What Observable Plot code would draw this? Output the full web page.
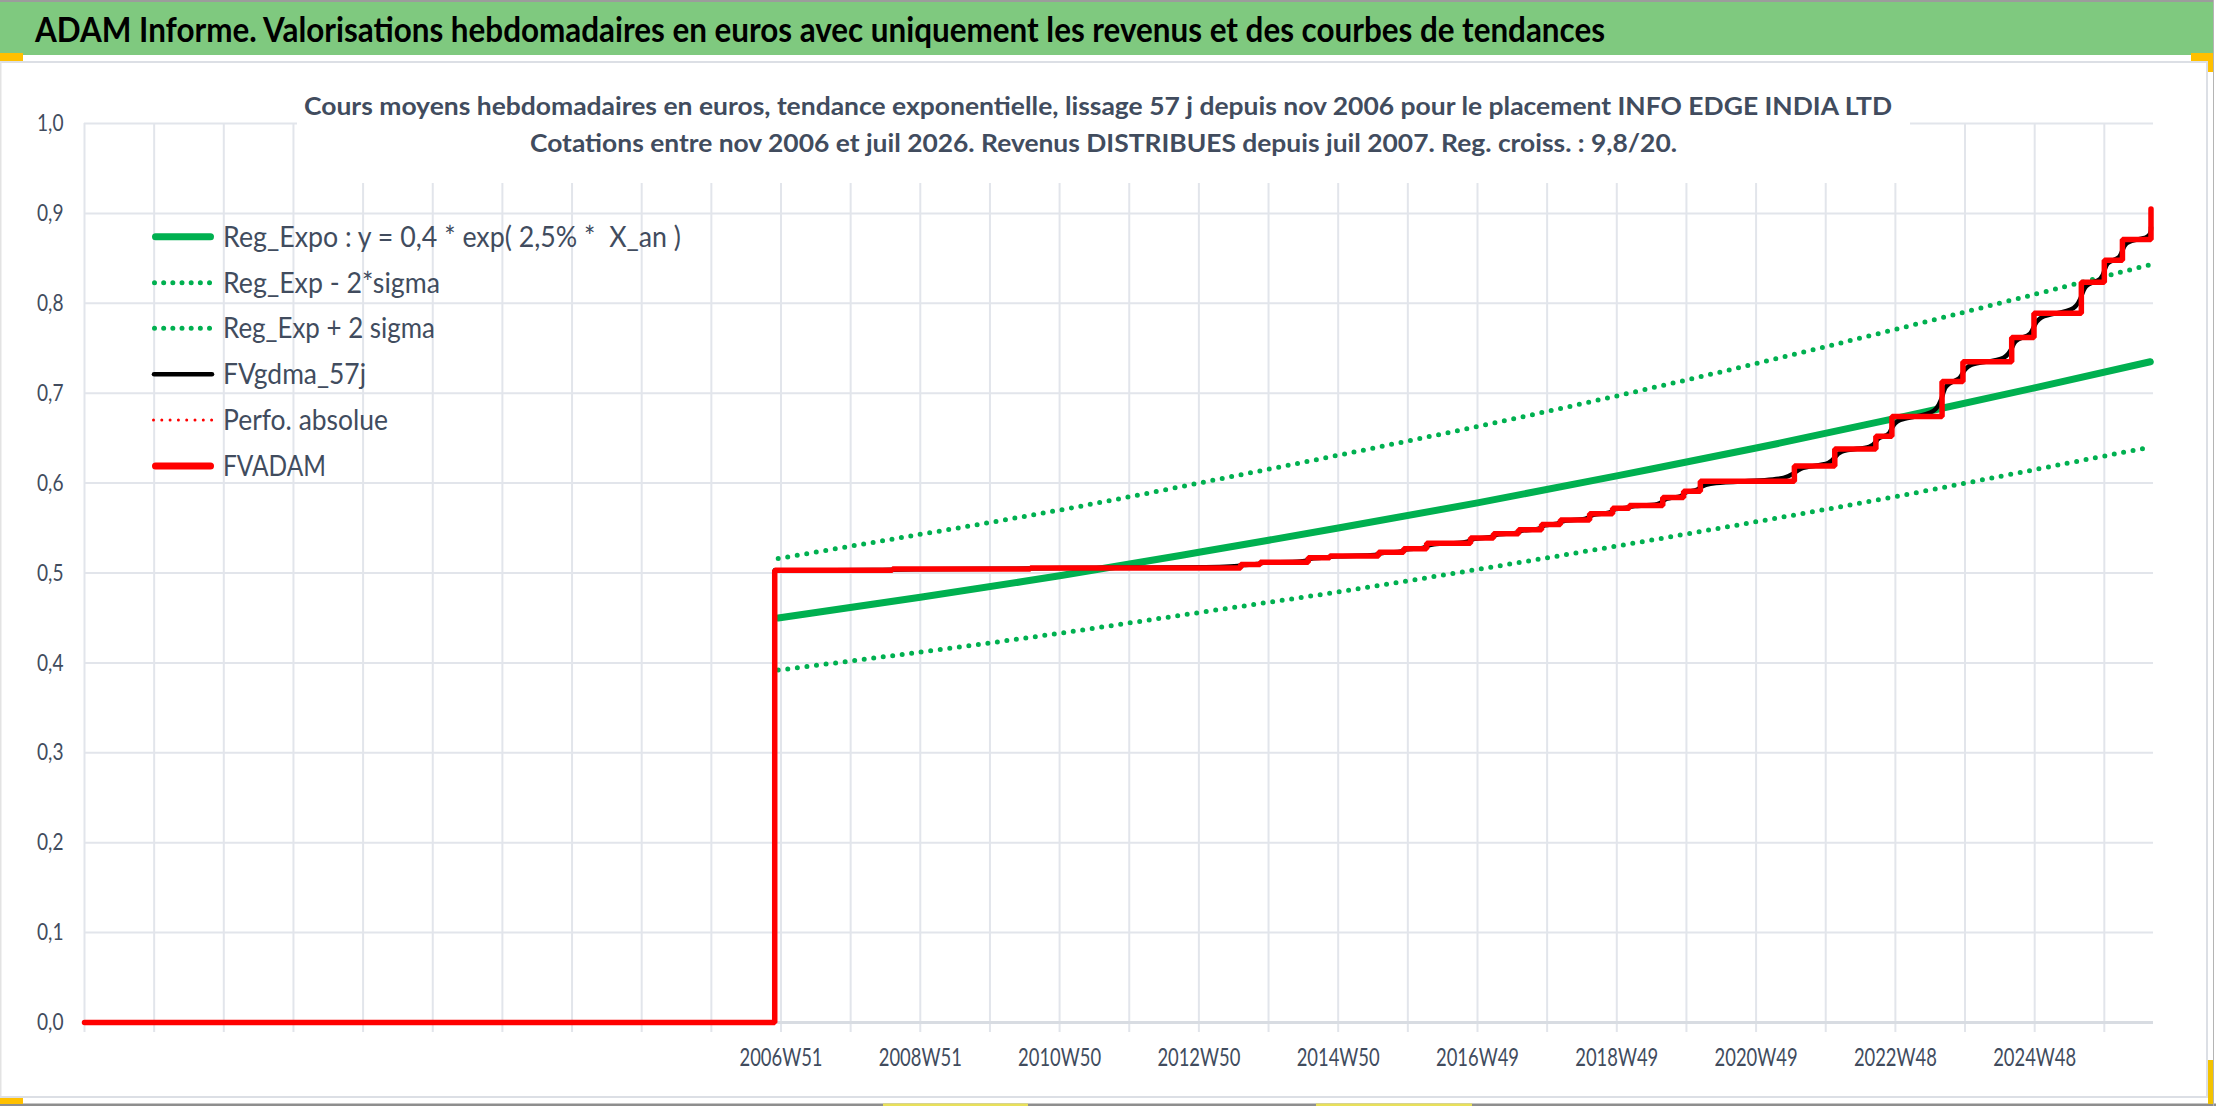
<!DOCTYPE html>
<html>
<head>
<meta charset="utf-8">
<script src="https://cdn.jsdelivr.net/npm/d3@7"></script>
<script src="https://cdn.jsdelivr.net/npm/@observablehq/plot@0.6"></script>
<style>
html, body { margin: 0; padding: 0; background: #fff; }
#wrap { position: relative; width: 2216px; height: 1106px; overflow: hidden; background: #fff; }
#wrap > svg { position: absolute; left: 0; top: 0; }
</style>
</head>
<body>
<div id="wrap"></div>
<script>
// ---------- texts ----------
const titleText = "ADAM Informe. Valorisations hebdomadaires en euros avec uniquement les revenus et des courbes de tendances";
const subtitleLines = [
  "Cours moyens hebdomadaires en euros, tendance exponentielle, lissage 57 j depuis nov 2006 pour le placement INFO EDGE INDIA LTD",
  "Cotations entre nov 2006 et juil 2026. Revenus DISTRIBUES depuis juil 2007. Reg. croiss. : 9,8/20."
];
const legendLabels = [
  "Reg_Expo : y = 0,4 * exp( 2,5% *  X_an )",
  "Reg_Exp - 2*sigma",
  "Reg_Exp + 2 sigma",
  "FVgdma_57j",
  "Perfo. absolue",
  "FVADAM"
];

// ---------- axes ----------
const yTicks = [0, 0.1, 0.2, 0.3, 0.4, 0.5, 0.6, 0.7, 0.8, 0.9, 1.0];
const xTickYears = [2006.97, 2008.97, 2010.97, 2012.97, 2014.97, 2016.97, 2018.97, 2020.97, 2022.97, 2024.97];
const xTickLabels = ["2006W51", "2008W51", "2010W50", "2012W50", "2014W50", "2016W49", "2018W49", "2020W49", "2022W48", "2024W48"];
const xDomain = [1996.97, 2026.676];

// ---------- series ----------
const regYears = [2006.93, 2008.97, 2010.97, 2012.97, 2014.97, 2016.97, 2018.97, 2020.97, 2022.97, 2024.97, 2026.63];
const regValues = [0.450, 0.473, 0.497, 0.523, 0.550, 0.578, 0.608, 0.639, 0.672, 0.706, 0.735];
const regHighValues = [0.516, 0.543, 0.570, 0.600, 0.631, 0.663, 0.697, 0.733, 0.771, 0.810, 0.843];
const regLowValues = [0.392, 0.412, 0.433, 0.456, 0.479, 0.504, 0.530, 0.557, 0.585, 0.615, 0.640];

const fvYears = [1996.97, 2006.88, 2008.57, 2010.55, 2013.57, 2013.85, 2014.54, 2014.85, 2015.55, 2015.91,
  2016.24, 2016.87, 2017.20, 2017.56, 2017.89, 2018.16, 2018.58, 2018.91, 2019.15, 2019.63,
  2019.93, 2020.17, 2021.52, 2022.10, 2022.69, 2022.92, 2023.64, 2023.94, 2024.64, 2024.96,
  2025.64, 2025.97, 2026.23, 2026.64];
const fvValues = [0, 0.503, 0.5045, 0.5057, 0.5095, 0.512, 0.517, 0.519, 0.523, 0.527,
  0.533, 0.539, 0.5436, 0.548, 0.554, 0.559, 0.566, 0.572, 0.575, 0.584,
  0.591, 0.602, 0.619, 0.638, 0.652, 0.674, 0.713, 0.735, 0.762, 0.789,
  0.8235, 0.848, 0.871, 0.905];
const gdmaLastValue = 0.885;

// ---------- build tables ----------
const reg = regYears.map((x, i) => ({x, y: regValues[i]}));
const regHigh = regYears.map((x, i) => ({x, y: regHighValues[i]}));
const regLow = regYears.map((x, i) => ({x, y: regLowValues[i]}));
const fv = fvYears.map((x, i) => ({x, y: fvValues[i]}));
// smoothed (moving average) line: corners of the staircase after the first quotation
const gdma = [];
for (let i = 1; i < fvYears.length; i++) {
  if (i > 1) gdma.push({x: fvYears[i], y: fvValues[i - 1]});
  gdma.push({x: fvYears[i], y: i === fvYears.length - 1 ? gdmaLastValue : fvValues[i]});
}
const gridYears = d3.range(0, 30).map(k => xDomain[0] + k);
const labelMap = new Map(xTickYears.map((d, i) => [d, xTickLabels[i]]));

const W = 2216, H = 1106;
const gridColor = "#E2E5EB";
const textColor = "#414C5E";
const font = "Lato, 'Open Sans', 'DejaVu Sans', sans-serif";
const green = "#00B050", red = "#FF0000";

const plot = Plot.plot({
  width: W, height: H,
  marginLeft: 84, marginRight: 63, marginTop: 123, marginBottom: 84,
  x: {domain: xDomain, label: null},
  y: {domain: [0, 1], label: null},
  style: {background: "transparent", fontFamily: font, color: textColor, overflow: "visible"},
  marks: [
    Plot.gridY(yTicks, {stroke: gridColor, strokeOpacity: 1, strokeWidth: 2}),
    Plot.gridX(gridYears, {stroke: gridColor, strokeOpacity: 1, strokeWidth: 2}),
    Plot.axisX({ticks: gridYears, tickSize: 10, tickFormat: () => "", stroke: gridColor, strokeOpacity: 1, strokeWidth: 2}),
    Plot.axisX({ticks: xTickYears, tickSize: 0, tickPadding: 26, tickFormat: d => labelMap.get(d), fill: textColor, fontSize: 25}),
    Plot.axisY({ticks: yTicks, tickSize: 0, tickPadding: 21, tickFormat: d => d.toFixed(1).replace(".", ","), fill: textColor, fontSize: 24}),
    Plot.ruleY([0], {stroke: "#D8DCE2", strokeWidth: 3}),
    Plot.line(reg, {x: "x", y: "y", stroke: green, strokeWidth: 7, curve: "natural"}),
    Plot.line(regLow, {x: "x", y: "y", stroke: green, strokeWidth: 5, curve: "natural", strokeDasharray: "0 9.6", strokeLinecap: "round"}),
    Plot.line(regHigh, {x: "x", y: "y", stroke: green, strokeWidth: 5, curve: "natural", strokeDasharray: "0 9.6", strokeLinecap: "round"}),
    Plot.line(gdma, {x: "x", y: "y", stroke: "#000", strokeWidth: 4.5, curve: "basis"}),
    Plot.line(fv, {x: "x", y: "y", stroke: red, strokeWidth: 5.5, curve: "step-after", strokeLinejoin: "miter"})
  ]
});

const wrap = document.getElementById("wrap");
wrap.appendChild(plot);

// condense tick labels to the reference widths
function condense(groupLabel, refText, targetWidth) {
  const texts = Array.from(plot.querySelectorAll(`g[aria-label="${groupLabel}"] text`)).filter(t => t.textContent.length);
  const ref = texts.find(t => t.textContent === refText);
  if (!ref) return;
  const k = targetWidth / ref.getComputedTextLength();
  texts.forEach(t => {
    const len = t.getComputedTextLength();
    t.setAttribute("textLength", (len * k).toFixed(2));
    t.setAttribute("lengthAdjust", "spacingAndGlyphs");
  });
}
condense("x-axis tick label", "2006W51", 83);
condense("y-axis tick label", "0,0", 26.5);

// ---------- overlay: frame, title, subtitle, legend ----------
const ov = d3.select(wrap).append("svg")
  .attr("width", W).attr("height", H)
  .style("pointer-events", "none")
  .attr("font-family", font);

// frame
ov.append("rect").attr("x", 0).attr("y", 0).attr("width", 2214).attr("height", 2).attr("fill", "#9C9C9C");
ov.append("rect").attr("x", 0).attr("y", 2).attr("width", 2213).attr("height", 53).attr("fill", "#7FC97F");
ov.append("rect").attr("x", 0).attr("y", 61).attr("width", 2208).attr("height", 2).attr("fill", "#DCDFE5");
ov.append("rect").attr("x", 0).attr("y", 62).attr("width", 1.5).attr("height", 1036).attr("fill", "#E3E3E3");
ov.append("rect").attr("x", 2206).attr("y", 62).attr("width", 2).attr("height", 1036).attr("fill", "#DCDFE5");
ov.append("rect").attr("x", 0).attr("y", 1096).attr("width", 2208).attr("height", 2).attr("fill", "#DCDFE5");
ov.append("rect").attr("x", 0).attr("y", 1103.5).attr("width", W).attr("height", 2.5).attr("fill", "#8E8E8E");
ov.append("rect").attr("x", 2213).attr("y", 0).attr("width", 1).attr("height", H).attr("fill", "#B4B4B4");
// selection handles
ov.append("rect").attr("x", 0).attr("y", 53).attr("width", 23).attr("height", 8).attr("fill", "#FFC000");
ov.append("rect").attr("x", 2191).attr("y", 53).attr("width", 22).attr("height", 8).attr("fill", "#FFC000");
ov.append("rect").attr("x", 2208).attr("y", 53).attr("width", 5).attr("height", 19).attr("fill", "#FFC000");
ov.append("rect").attr("x", 0).attr("y", 1098).attr("width", 23).attr("height", 6).attr("fill", "#FFC000");
ov.append("rect").attr("x", 2208).attr("y", 1060).attr("width", 5).attr("height", 44).attr("fill", "#F2C200");
ov.append("rect").attr("x", 883).attr("y", 1103.5).attr("width", 145).attr("height", 2.5).attr("fill", "#E8E05A");
ov.append("rect").attr("x", 1316).attr("y", 1103.5).attr("width", 156).attr("height", 2.5).attr("fill", "#E8E05A");

// title
ov.append("text").attr("x", 35).attr("y", 41.5)
  .attr("font-size", 34).attr("font-weight", "bold").attr("fill", "#000")
  .attr("textLength", 1570).attr("lengthAdjust", "spacingAndGlyphs")
  .text(titleText);

// subtitle box + text
ov.append("rect").attr("x", 297).attr("y", 64).attr("width", 1613).attr("height", 119).attr("fill", "#fff");
const subPos = [{x: 304, y: 115, w: 1588}, {x: 530, y: 151.5, w: 1147}];
subtitleLines.forEach((s, i) => {
  ov.append("text").attr("x", subPos[i].x).attr("y", subPos[i].y)
    .attr("font-size", 25.5).attr("font-weight", "bold").attr("fill", textColor)
    .attr("textLength", subPos[i].w).attr("lengthAdjust", "spacingAndGlyphs")
    .text(s);
});

// legend
const legendY = [236.7, 282.7, 328.3, 374.3, 420, 466];
const legendW = [458, 217, 212, 143, 165, 103];
const swatches = [
  {stroke: green, width: 7, dash: null, cap: "round", x1: 155.5, x2: 210.5},
  {stroke: green, width: 5, dash: "0 9.17", cap: "round", x1: 154.5, x2: 209.6},
  {stroke: green, width: 5, dash: "0 9.17", cap: "round", x1: 154.5, x2: 209.6},
  {stroke: "#000", width: 4.5, dash: null, cap: "round", x1: 154, x2: 212},
  {stroke: red, width: 3, dash: "0 8.3", cap: "round", x1: 153.5, x2: 211.7},
  {stroke: red, width: 7, dash: null, cap: "round", x1: 155.5, x2: 210.5}
];
legendLabels.forEach((lab, i) => {
  const s = swatches[i];
  const ln = ov.append("line").attr("x1", s.x1).attr("x2", s.x2).attr("y1", legendY[i]).attr("y2", legendY[i])
    .attr("stroke", s.stroke).attr("stroke-width", s.width).attr("stroke-linecap", s.cap);
  if (s.dash) ln.attr("stroke-dasharray", s.dash);
  ov.append("text").attr("x", 223).attr("y", legendY[i] + 10)
    .attr("font-size", 28).attr("fill", textColor)
    .attr("xml:space", "preserve").style("white-space", "pre")
    .attr("textLength", legendW[i]).attr("lengthAdjust", "spacingAndGlyphs")
    .text(lab);
});
</script>
</body>
</html>
